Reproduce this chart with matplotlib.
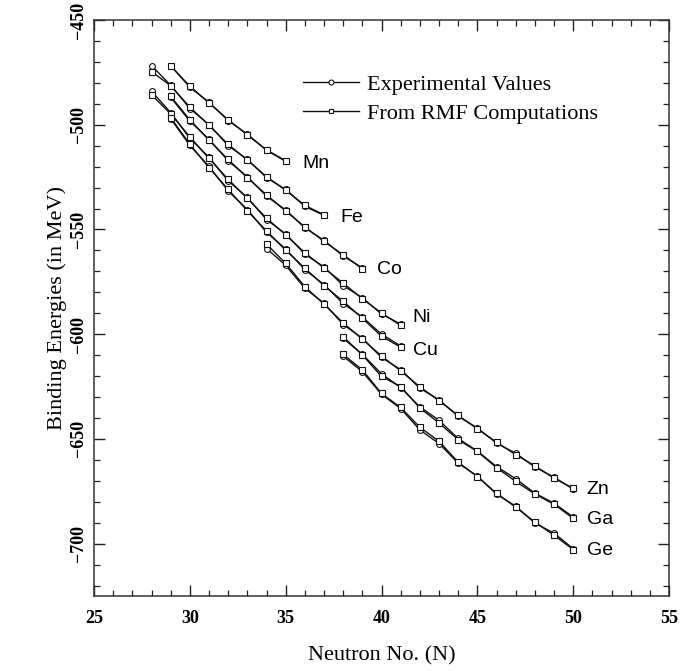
import matplotlib
matplotlib.use("Agg")
import matplotlib.pyplot as plt
from matplotlib.ticker import MultipleLocator

# Neutron numbers of each isotope chain
n_mn = list(range(29, 36))
n_fe = list(range(28, 38))
n_co = list(range(29, 40))
n_ni = list(range(28, 42))
n_cu = list(range(29, 42))
n_zn = list(range(34, 51))
n_ga = list(range(38, 51))
n_ge = list(range(38, 51))

# Experimental binding energies (MeV)
exp_mn = [-471.8, -482.1, -489.3, -498.0, -504.5, -512.2, -517.5]
exp_fe = [-471.8, -481.1, -492.3, -499.9, -510.0, -516.5, -525.3, -530.9, -539.0, -543.3]
exp_co = [-486.9, -498.3, -506.9, -517.3, -524.8, -534.1, -540.7, -549.2, -555.2, -562.7, -568.3]
exp_ni = [-484.0, -494.2, -506.5, -515.5, -526.8, -534.7, -545.3, -552.1, -561.8, -567.9,
          -576.8, -582.6, -590.4, -595.2]
exp_cu = [-497.1, -509.9, -519.9, -531.6, -540.5, -551.4, -559.3, -569.2, -576.3, -585.4,
          -591.8, -600.0, -605.6]
exp_zn = [-559.1, -567.1, -578.1, -585.2, -595.4, -601.9, -611.1, -616.9, -625.8, -631.3,
          -639.2, -644.8, -652.0, -656.9, -663.4, -668.3, -674.0]
exp_ga = [-602.0, -609.6, -618.9, -625.5, -634.7, -641.1, -649.8, -655.8, -663.2, -669.0,
          -675.9, -680.7, -687.3]
exp_ge = [-610.5, -617.9, -628.7, -635.5, -645.7, -652.2, -661.6, -667.7, -676.4, -682.1,
          -690.2, -695.0, -702.4]

# RMF binding energies (MeV)
rmf_mn = [-471.9, -481.6, -489.6, -497.6, -504.9, -512.0, -517.2]
rmf_fe = [-474.6, -481.4, -491.6, -500.3, -509.4, -516.9, -524.8, -531.3, -538.5, -543.0]
rmf_co = [-486.5, -497.6, -507.4, -516.6, -525.3, -533.5, -541.2, -548.8, -555.7, -562.1, -568.8]
rmf_ni = [-485.7, -494.8, -505.8, -516.1, -526.1, -535.2, -544.6, -552.6, -561.1, -568.4,
          -575.6, -583.1, -589.9, -595.8]
rmf_cu = [-496.6, -509.3, -520.5, -530.9, -541.1, -550.7, -559.9, -568.5, -576.8, -584.3,
          -592.4, -601.0, -606.2]
rmf_zn = [-557.0, -566.2, -577.3, -585.7, -594.6, -602.4, -610.4, -617.5, -625.1, -631.8,
          -638.8, -645.2, -651.6, -657.5, -662.9, -668.7, -673.6]
rmf_ga = [-601.2, -609.9, -620.2, -625.0, -635.2, -642.4, -650.4, -656.0, -663.7, -670.3,
          -676.3, -681.2, -687.9]
rmf_ge = [-609.7, -617.0, -628.3, -635.0, -644.4, -651.1, -661.1, -668.1, -675.9, -682.6,
          -689.7, -696.0, -702.8]

elements = ["Mn", "Fe", "Co", "Ni", "Cu", "Zn", "Ga", "Ge"]
neutrons = [n_mn, n_fe, n_co, n_ni, n_cu, n_zn, n_ga, n_ge]
exp_vals = [exp_mn, exp_fe, exp_co, exp_ni, exp_cu, exp_zn, exp_ga, exp_ge]
rmf_vals = [rmf_mn, rmf_fe, rmf_co, rmf_ni, rmf_cu, rmf_zn, rmf_ga, rmf_ge]

# label offsets in pixels from the last point of each chain
label_offsets = {"Mn": (17, -2), "Fe": (16, -2), "Co": (15, -2), "Ni": (12, 7),
                 "Cu": (12, -5), "Zn": (13, 0), "Ga": (14, -2), "Ge": (14, -2)}

serif = ["Liberation Serif", "DejaVu Serif"]
sans = ["Liberation Sans", "DejaVu Sans"]

fig = plt.figure(figsize=(6.96, 6.71), dpi=100)
ax = fig.add_axes([94 / 696, 1 - 596 / 671, 575 / 696, 576 / 671])

line_kw = dict(color="#111111", linewidth=1.0, markersize=4.2,
               markerfacecolor="white", markeredgecolor="#111111", markeredgewidth=0.8)

for i, el in enumerate(elements):
    h_exp, = ax.plot(neutrons[i], exp_vals[i], marker="o", **line_kw)
    h_rmf, = ax.plot(neutrons[i], rmf_vals[i], marker="s", **line_kw)
    dx, dy = label_offsets[el]
    ax.annotate(el, (neutrons[i][-1], exp_vals[i][-1]), xytext=(dx, dy),
                textcoords="offset pixels", ha="left", va="center",
                fontsize=14, family=sans)
    if i == 0:
        h_exp.set_label("Experimental Values")
        h_rmf.set_label("From RMF Computations")

ax.set_xlim(25, 55)
ax.set_ylim(-725, -450)
ax.xaxis.set_major_locator(MultipleLocator(5))
ax.xaxis.set_minor_locator(MultipleLocator(1))
ax.yaxis.set_major_locator(MultipleLocator(50))
ax.yaxis.set_minor_locator(MultipleLocator(10))

ax.tick_params(which="both", direction="in", top=True, right=True, color="#222222")
ax.tick_params(which="major", length=8, width=1.0)
ax.tick_params(which="minor", length=4.5, width=0.9)
ax.tick_params(axis="x", which="major", pad=10)
ax.tick_params(axis="y", which="major", pad=5)

for lab in ax.get_xticklabels():
    lab.set_fontfamily(serif)
    lab.set_fontweight("bold")
    lab.set_fontsize(13)
for lab in ax.get_yticklabels():
    lab.set_fontfamily(serif)
    lab.set_fontweight("bold")
    lab.set_fontsize(13)
    lab.set_rotation(90)
    lab.set_va("center")

for sp in ax.spines.values():
    sp.set_linewidth(1.1)
    sp.set_color("#333333")

ax.set_xlabel("Neutron No. (N)", fontsize=16, family=serif, labelpad=14)
ax.set_ylabel("Binding Energies (in MeV)", fontsize=16, family=serif, labelpad=2)

leg = ax.legend(loc="upper left", bbox_to_anchor=(0.3635, 0.905), frameon=False,
                numpoints=1, handlelength=2.5, handletextpad=0.4, labelspacing=0.35,
                borderpad=0, borderaxespad=0, prop={"family": serif, "size": 16})
for h in leg.legend_handles:
    h.set_markersize(3.5)

fig.savefig("out.png", dpi=100)
